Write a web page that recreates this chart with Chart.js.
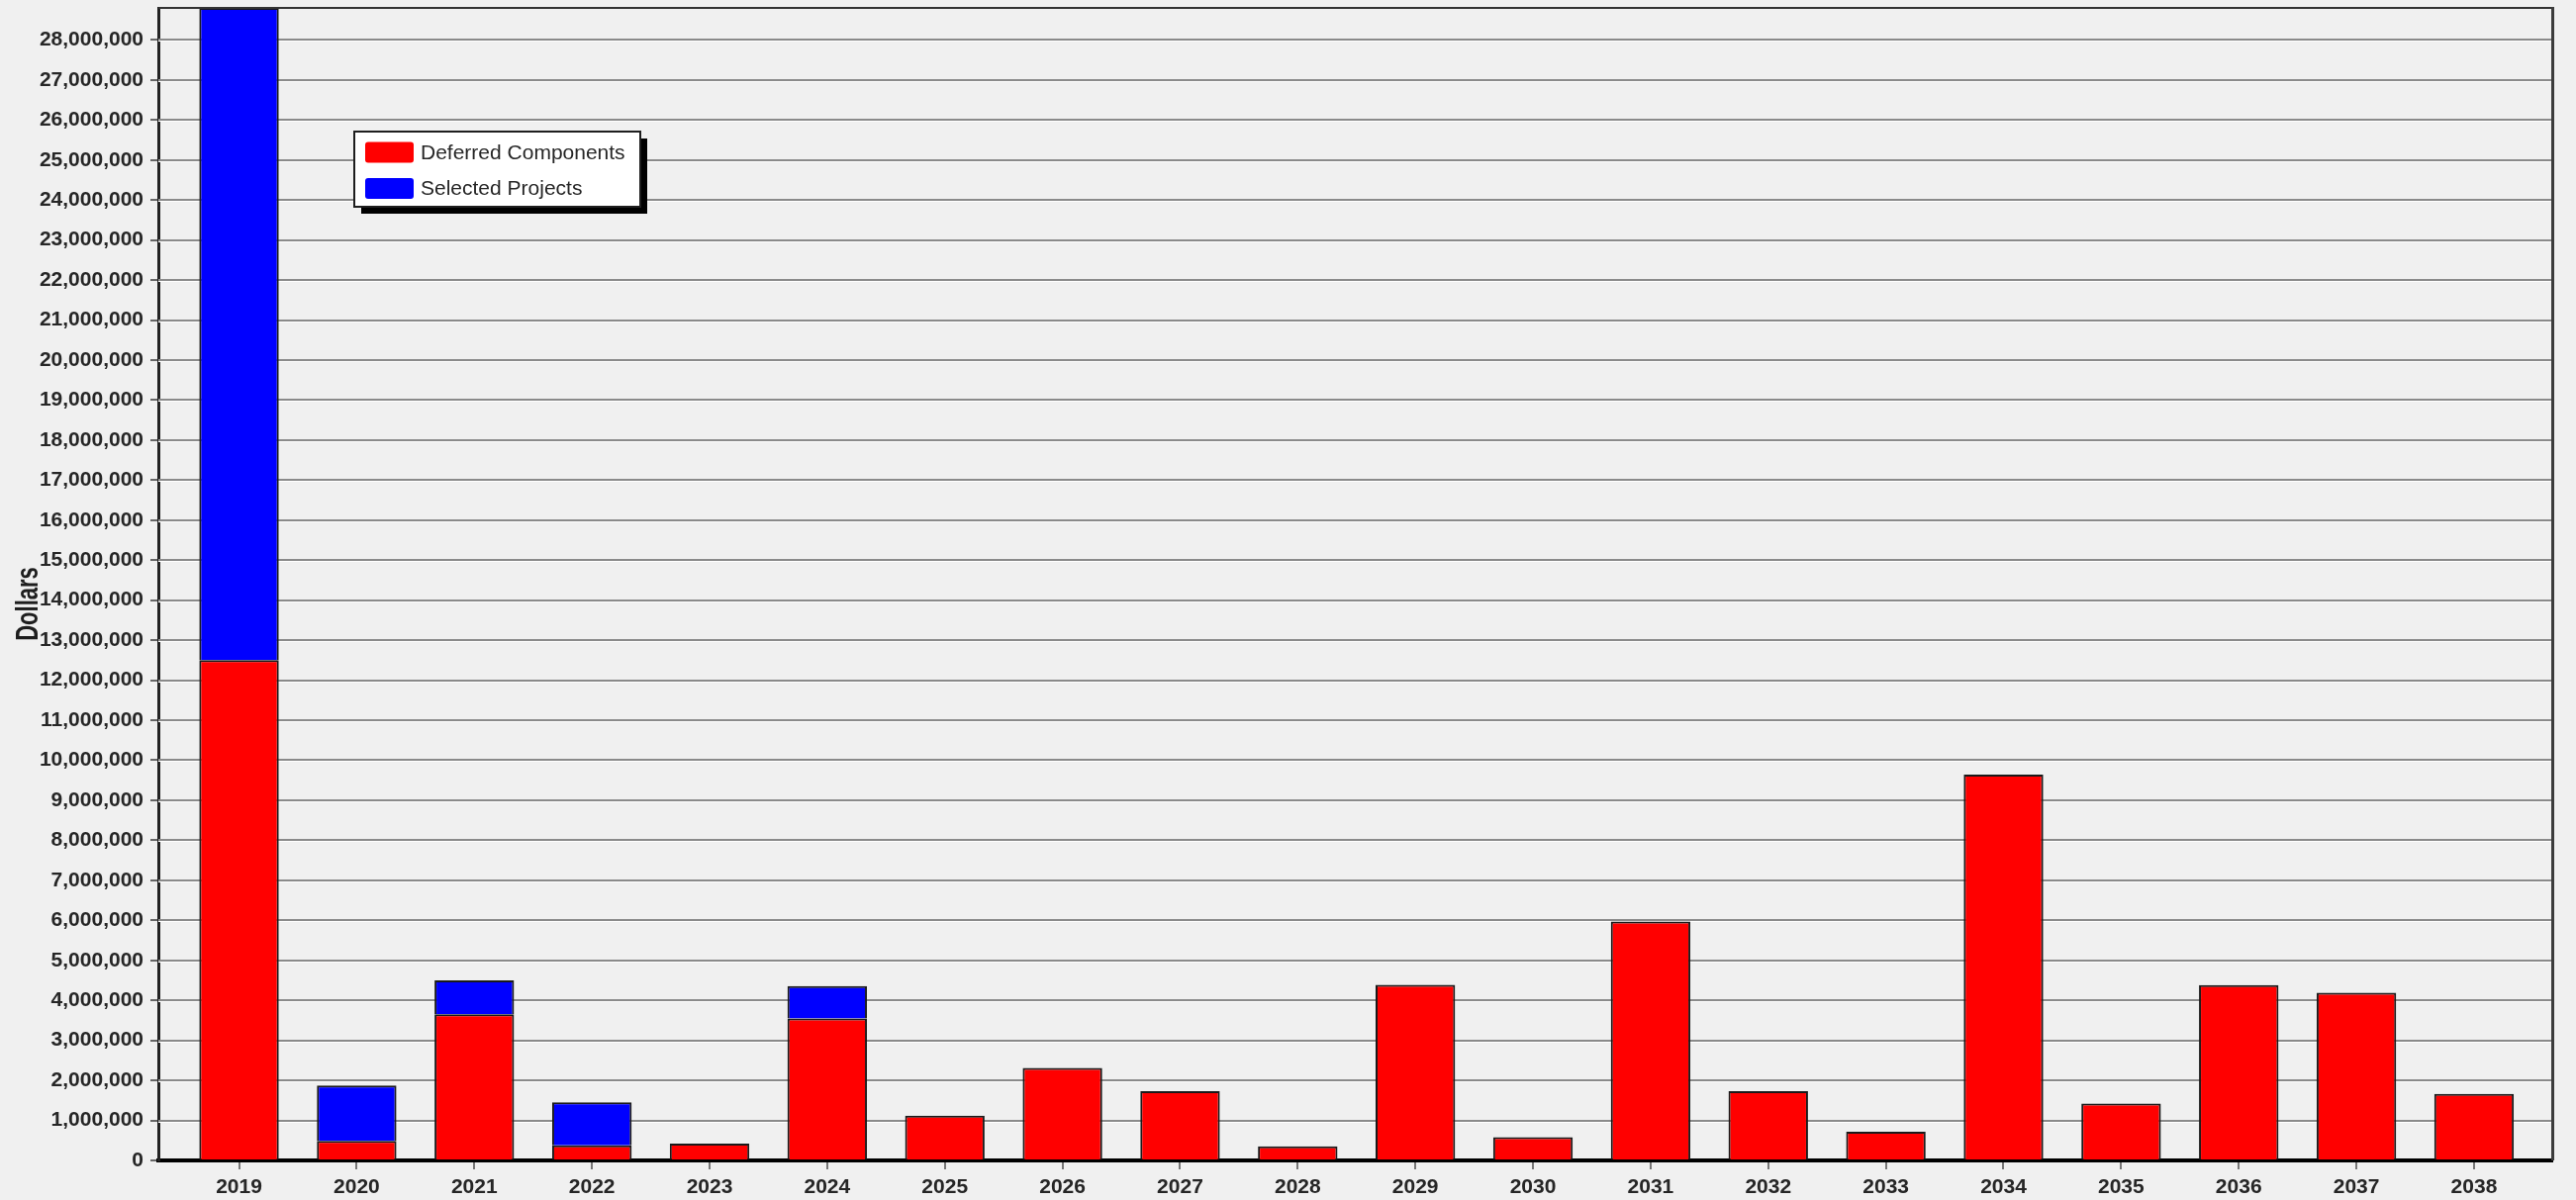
<!DOCTYPE html>
<html>
<head>
<meta charset="utf-8">
<title>Dollars by Year</title>
<script src="https://cdn.jsdelivr.net/npm/chart.js@4.4.1/dist/chart.umd.min.js"></script>
<style>
  html, body { margin: 0; padding: 0; background: #f0f0f0; }
  #wrap { width: 2603px; height: 1213px; }
</style>
</head>
<body>
<div id="wrap"><canvas id="fundingChart"></canvas></div>
<script>
'use strict';

/**
 * data
 */

const years = ['2019', '2020', '2021', '2022', '2023', '2024', '2025', '2026', '2027', '2028',
  '2029', '2030', '2031', '2032', '2033', '2034', '2035', '2036', '2037', '2038'];

const deferredComponents = [12500000, 490000, 3650000, 380000, 420000, 3550000, 1120000, 2310000, 1730000, 350000,
  4390000, 580000, 5970000, 1730000, 720000, 9640000, 1420000, 4380000, 4190000, 1660000];

const selectedProjects = [16300000, 1380000, 850000, 1070000, 0, 810000, 0, 0, 0, 0,
  0, 0, 0, 0, 0, 0, 0, 0, 0, 0];

const seriesLabels = ['Deferred Components', 'Selected Projects'];
const yAxisTitle = 'Dollars';
const yStep = 1000000;


/**
 * plot frame, etched grid lines, axis title and boxed legend
 */

const textColor = '#262626';
const fontFamily = '"Liberation Sans", Arial, sans-serif';

const etchedGrid = {
  id: 'etchedGrid',
  beforeDatasetsDraw(chart) {
    const { ctx, chartArea } = chart;
    const yScale = chart.scales.y;
    ctx.save();
    yScale.ticks.forEach(function (tick) {
      if (tick.value === 0) return;
      const py = Math.round(yScale.getPixelForValue(tick.value));
      ctx.fillStyle = '#8a8a8a';
      ctx.fillRect(chartArea.left, py - 1, chartArea.right - chartArea.left, 2);
      ctx.fillStyle = '#ffffff';
      ctx.fillRect(chartArea.left, py + 1, chartArea.right - chartArea.left, 1);
    });
    ctx.restore();
  }
};

const plotFrame = {
  id: 'plotFrame',
  afterDatasetsDraw(chart) {
    const { ctx, chartArea } = chart;
    ctx.save();
    ctx.fillStyle = '#333';
    ctx.fillRect(chartArea.left, chartArea.top - 1, chartArea.right - chartArea.left, 2);
    ctx.fillStyle = '#3c3c3c';
    ctx.fillRect(chartArea.right - 1, chartArea.top - 1, 3, chartArea.bottom - chartArea.top + 1);
    ctx.restore();
  }
};

// narrow rotated axis title, set a little below the middle of the plot
const narrowAxisTitle = {
  id: 'narrowAxisTitle',
  afterDraw(chart) {
    const { ctx, chartArea } = chart;
    const cx = chart.scales.y.left + 38;
    const cy = (chartArea.top + chartArea.bottom) / 2 + 20;
    ctx.save();
    ctx.translate(cx, cy);
    ctx.rotate(-Math.PI / 2);
    ctx.scale(0.71, 1);
    ctx.font = 'bold 31px ' + fontFamily;
    ctx.fillStyle = '#1e1e1e';
    ctx.textAlign = 'center';
    ctx.textBaseline = 'alphabetic';
    ctx.fillText(yAxisTitle, 0, 0);
    ctx.restore();
  }
};

const boxLegend = {
  id: 'boxLegend',
  afterDraw(chart) {
    const ctx = chart.ctx;
    const x = 358, y = 133, w = 289, h = 76;
    ctx.save();
    ctx.fillStyle = '#000';
    ctx.fillRect(x + 7, y + 7, w, h);
    ctx.fillStyle = '#fff';
    ctx.fillRect(x, y, w, h);
    ctx.strokeStyle = '#1e1e1e';
    ctx.lineWidth = 2;
    ctx.strokeRect(x, y, w, h);

    ctx.font = '21px ' + fontFamily;
    ctx.textBaseline = 'middle';
    chart.data.datasets.forEach(function (ds, i) {
      const rowY = y + 21 + i * 36.5;
      ctx.fillStyle = ds.backgroundColor;
      ctx.beginPath();
      ctx.roundRect(x + 11, rowY - 10.5, 49, 21, 3);
      ctx.fill();
      ctx.fillStyle = textColor;
      ctx.fillText(ds.label, x + 67, rowY + 1);
    });
    ctx.restore();
  }
};


/**
 * chart
 */

Chart.defaults.font.family = fontFamily;

const ctx = document.getElementById('fundingChart').getContext('2d');

new Chart(ctx, {
  type: 'bar',
  data: {
    datasets: [{
      label: seriesLabels[0],
      data: deferredComponents.map((v, i) => ({ x: i, y: v })),
      backgroundColor: '#ff0000',
      borderColor: '#1a1a1a',
      borderWidth: 2
    }, {
      label: seriesLabels[1],
      data: selectedProjects.map((v, i) => ({ x: i, y: v })),
      backgroundColor: '#0000ff',
      borderColor: '#1a1a1a',
      borderWidth: 2
    }]
  },
  options: {
    responsive: true,
    maintainAspectRatio: false,
    animation: false,
    layout: { padding: { top: 8, right: 24, bottom: 0, left: 0 } },
    datasets: { bar: { categoryPercentage: 1, barPercentage: 0.676 } },
    plugins: {
      legend: { display: false },
      tooltip: { enabled: false }
    },
    scales: {
      x: {
        type: 'linear',
        stacked: true,
        offset: false,
        min: -0.686,
        max: 19.665,
        grid: { offset: false, drawOnChartArea: false, drawTicks: true, tickLength: 9, color: '#777', lineWidth: 2 },
        border: { color: '#000', width: 4 },
        ticks: {
          stepSize: 1,
          includeBounds: false,
          autoSkip: false,
          maxRotation: 0,
          padding: 6,
          color: textColor,
          font: { size: 21, weight: 'bold' },
          callback: function (value) { return years[value]; }
        },
        afterFit: function (scale) { scale.height = 40; }
      },
      y: {
        stacked: true,
        min: 0,
        bounds: 'data',
        grid: { drawOnChartArea: false, drawTicks: true, tickLength: 8, color: '#666', lineWidth: 2 },
        border: { color: '#222', width: 3 },
        ticks: {
          stepSize: yStep,
          includeBounds: false,
          padding: 7,
          color: textColor,
          font: { size: 21, weight: 'bold' },
          callback: function (value) { return value.toLocaleString('en-US'); }
        },
        // keep whole-million ticks only (no label for the data top)
        afterBuildTicks: function (scale) {
          scale.ticks = scale.ticks.filter(t => t.value % yStep === 0);
        },
        afterFit: function (scale) {
          scale.width = 160;
          scale.paddingTop = 0;
          scale.paddingBottom = 0;
        }
      }
    }
  },
  plugins: [etchedGrid, plotFrame, narrowAxisTitle, boxLegend]
});
</script>
</body>
</html>
